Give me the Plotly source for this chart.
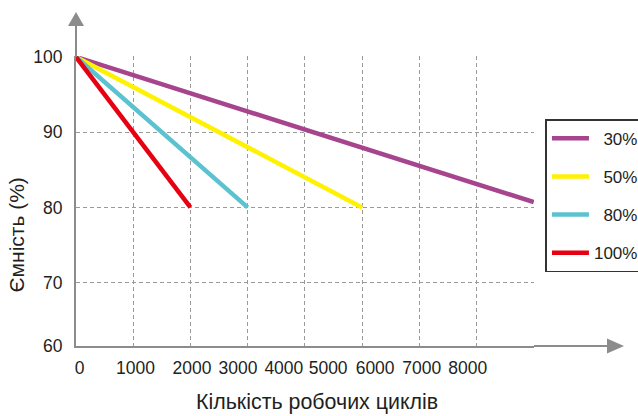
import plotly.graph_objects as go

# ---- data ----
series_names = ["\u200730%", "\u200750%", "\u200780%", "100%"]
cycles_30 = [0, 8000]
capacity_30 = [100, 80.7]
cycles_50 = [0, 5000]
capacity_50 = [100, 80]
cycles_80 = [0, 3000]
capacity_80 = [100, 80]
cycles_100 = [0, 2000]
capacity_100 = [100, 80]

x_tick_labels = ["0", "1000", "2000", "3000", "4000", "5000", "6000", "7000", "8000"]
y_tick_labels = ["60", "70", "80", "90", "100"]

# ---- layout / style ----
x_label_pos = [61, 1039, 2026, 2830, 3633, 4407, 5228, 6044, 6847]
y_label_pos = [61.57, 70, 80, 90, 100]
colors = ["#A6448E", "#FFF200", "#5BC2CF", "#E60012"]
FONT = "Liberation Sans, Arial, sans-serif"
TXT = "#231F20"
AX = "#8C8C8C"
GRID = "#9A9A9A"

fig = go.Figure()
for name, xs, ys, c in zip(series_names,
                           [cycles_30, cycles_50, cycles_80, cycles_100],
                           [capacity_30, capacity_50, capacity_80, capacity_100],
                           colors):
    fig.add_trace(go.Scatter(x=xs, y=ys, mode="lines", name=name,
                             legendgroup=name,
                             line=dict(color=c, width=4.5), cliponaxis=False))

fig.update_layout(
    width=638, height=416,
    margin=dict(l=76, r=104, t=56, b=70, autoexpand=False),
    paper_bgcolor="white", plot_bgcolor="white",
    font=dict(family=FONT, size=17, color=TXT),
    showlegend=True,
    legend=dict(x=1.025, y=0.7817, xanchor="left", yanchor="top",
                bordercolor="#333333", borderwidth=1.5, bgcolor="white",
                font=dict(family=FONT, size=17, color=TXT),
                tracegroupgap=13, itemwidth=37),
    xaxis=dict(range=[0, 8005], showline=True, linecolor=AX, linewidth=2,
               tickmode="array", tickvals=x_label_pos, ticktext=x_tick_labels,
               tickfont=dict(size=17.5),
               showgrid=False, zeroline=False, ticks="", ticklabelstandoff=5,
               minor=dict(tickmode="linear", tick0=0, dtick=1000, showgrid=True,
                          gridcolor=GRID, gridwidth=1, griddash="4px,3px", ticks="")),
    yaxis=dict(range=[61.57, 100.13], showline=True, linecolor=AX, linewidth=2,
               tickmode="array", tickvals=y_label_pos, ticktext=y_tick_labels,
               tickfont=dict(size=17.5),
               showgrid=True, gridcolor=GRID, gridwidth=1, griddash="4px,3px",
               zeroline=False, ticks="", ticklabelstandoff=8),
)

# axis extensions with arrow heads
fig.add_shape(type="line", xref="paper", yref="paper", x0=0, y0=1, x1=0, y1=1.1034,
              line=dict(color=AX, width=2))
fig.add_shape(type="path", xref="paper", yref="paper",
              path="M -0.01747,1.1034 L 0.01747,1.1034 L 0,1.1517 Z",
              fillcolor=AX, line=dict(color=AX, width=0))
fig.add_shape(type="line", xref="paper", yref="paper", x0=1, y0=0, x1=1.1594, y1=0,
              line=dict(color=AX, width=2))
fig.add_shape(type="path", xref="paper", yref="paper",
              path="M 1.1594,-0.02586 L 1.1594,0.02586 L 1.1965,0 Z",
              fillcolor=AX, line=dict(color=AX, width=0))

fig.add_annotation(text="Кількість робочих циклів", xref="paper", yref="paper",
                   x=0.5262, y=-0.1931, xanchor="center", yanchor="middle",
                   showarrow=False, font=dict(family=FONT, size=21.4, color=TXT))
fig.add_annotation(text="Ємність (%)", xref="paper", yref="paper",
                   x=-0.1299, y=0.3828, xanchor="center", yanchor="middle",
                   textangle=-90, showarrow=False,
                   font=dict(family=FONT, size=21, color=TXT))

fig.write_html("out.html", config={"displayModeBar": False},
               post_script="document.body.style.margin='0';document.body.style.overflow='hidden';")
